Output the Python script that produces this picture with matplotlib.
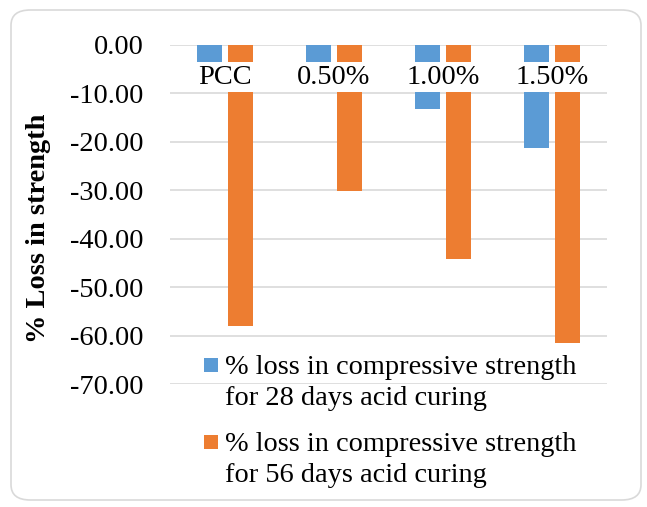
import matplotlib

matplotlib.use("Agg")
import matplotlib.pyplot as plt
import numpy as np
from matplotlib.patches import FancyBboxPatch, Rectangle

categories = ["PCC", "0.50%", "1.00%", "1.50%"]
loss_28 = [-8.1, -6.0, -13.2, -21.3]
loss_56 = [-58.0, -30.2, -44.2, -61.6]
series_labels = [
    "% loss in compressive strength\nfor 28 days acid curing",
    "% loss in compressive strength\nfor 56 days acid curing",
]
yticks = [0, -10, -20, -30, -40, -50, -60, -70]

BLUE = "#5B9BD5"
ORANGE = "#ED7D31"
GRID = "#D9D9D9"
FONT = "Liberation Serif"
FS = 20.4

W, H = 647, 507
fig = plt.figure(figsize=(W / 100, H / 100), dpi=100)


def fx(px):
    return px / W


def fy(py):
    return 1 - py / H


# rounded chart border
fig.patches.append(FancyBboxPatch((fx(11), fy(500)), fx(630), fy(10) - fy(500),
                                  boxstyle="round,pad=0,rounding_size=0.03",
                                  transform=fig.transFigure, facecolor="none",
                                  edgecolor=GRID, linewidth=1.2, zorder=-1))

ax = fig.add_axes([fx(170), fy(384), fx(607) - fx(170), fy(45) - fy(384)])
ax.set_facecolor("none")

x = np.arange(len(categories))
w = 0.229
off = 0.142
ax.bar(x - off, loss_28, w, color=BLUE, zorder=2)
ax.bar(x + off, loss_56, w, color=ORANGE, zorder=2)

ax.set_xlim(-0.5, len(categories) - 0.5)
ax.set_ylim(-70, 0)
ax.set_yticks(yticks)
ax.set_yticklabels([f"{v:.2f}" for v in yticks], fontfamily=FONT, fontsize=FS)
ax.tick_params(axis="y", length=0, pad=19)
ax.set_xticks([])
ax.yaxis.grid(True, color=GRID, linewidth=1.2, zorder=0)
ax.set_axisbelow(True)
for s in ax.spines.values():
    s.set_visible(False)

# category labels sit on the bars next to the zero line
for xi, name in zip(x, categories):
    ax.text(xi, -6.7, name, ha="center", va="center", fontfamily=FONT, fontsize=FS,
            zorder=5, bbox=dict(facecolor="white", edgecolor="none", pad=1.8))

fig.text(fx(39), fy(228), "% Loss in strength", rotation=90, ha="center", va="center",
         fontfamily=FONT, fontsize=FS, fontweight="bold")

# legend
for color, label, ytop in zip([BLUE, ORANGE], series_labels, [358, 435]):
    fig.patches.append(Rectangle((fx(204), fy(ytop + 14)), fx(14), fy(ytop) - fy(ytop + 14),
                                 transform=fig.transFigure, facecolor=color, edgecolor="none"))
    fig.text(fx(225), fy(ytop - 3), label, ha="left", va="top", fontfamily=FONT,
             fontsize=FS, linespacing=1.3)

fig.savefig("out.png", dpi=100)
